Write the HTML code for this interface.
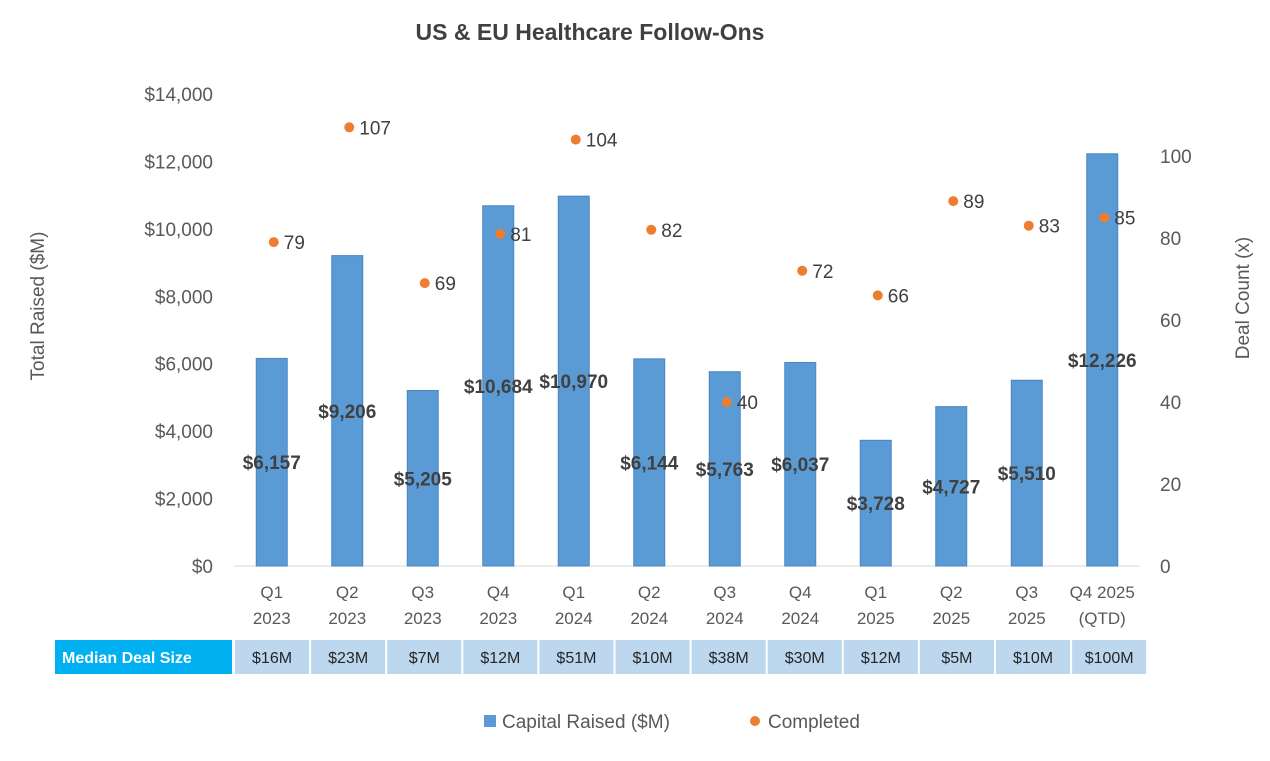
<!DOCTYPE html>
<html><head><meta charset="utf-8"><style>
body{margin:0;background:#fff;}
svg text{font-family:"Liberation Sans",Arial,sans-serif;}
</style></head><body>
<svg id="chart" width="1270" height="756" xmlns="http://www.w3.org/2000/svg">
<text x="590" y="40" text-anchor="middle" font-size="23" font-weight="bold" fill="#404040">US &amp; EU Healthcare Follow-Ons</text>
<text transform="translate(44,306) rotate(-90)" text-anchor="middle" font-size="19" fill="#595959">Total Raised ($M)</text>
<text transform="translate(1249,298) rotate(-90)" text-anchor="middle" font-size="19" fill="#595959">Deal Count (x)</text>
<line x1="234" y1="566" x2="1140" y2="566" stroke="#d9d9d9" stroke-width="1"/>
<g id="g"></g>
<rect x="55" y="640" width="177" height="34" fill="#00b0f0"/>
<text x="62" y="663" font-size="16" font-weight="bold" fill="#fff">Median Deal Size</text>
<rect x="484" y="715" width="12" height="12" fill="#5b9bd5"/>
<text x="502" y="728" font-size="19" fill="#595959">Capital Raised ($M)</text>
<circle cx="755" cy="721" r="5" fill="#ed7d31"/>
<text x="768" y="728" font-size="19" fill="#595959">Completed</text>
</svg>
<script>
const categories=[["Q1","2023"],["Q2","2023"],["Q3","2023"],["Q4","2023"],["Q1","2024"],["Q2","2024"],["Q3","2024"],["Q4","2024"],["Q1","2025"],["Q2","2025"],["Q3","2025"],["Q4 2025","(QTD)"]];
const capital=[6157,9206,5205,10684,10970,6144,5763,6037,3728,4727,5510,12226];
const deals=[79,107,69,81,104,82,40,72,66,89,83,85];
const medians=["$16M","$23M","$7M","$12M","$51M","$10M","$38M","$30M","$12M","$5M","$10M","$100M"];
const leftTicks=[0,2000,4000,6000,8000,10000,12000,14000];
const rightTicks=[0,20,40,60,80,100];
const NS="http://www.w3.org/2000/svg";
const g=document.getElementById('g');
const x0=234,step=75.5,base=566,tstep=76.1;
const xc=i=>x0+step/2+i*step;
const xt=i=>x0+i*tstep;
const yL=v=>base-v*(472/14000);
const yR=v=>base-v*4.1;
const fmt=v=>'$'+v.toLocaleString('en-US');
function mk(tag,attrs,txt){const e=document.createElementNS(NS,tag);for(const k in attrs)e.setAttribute(k,attrs[k]);if(txt!=null)e.textContent=txt;g.appendChild(e);return e;}
leftTicks.forEach(t=>{
 const e=mk('text',{x:213,y:yL(t)+7,'text-anchor':'end','font-size':19,fill:'#595959'},fmt(t));
 
 
});
rightTicks.forEach(t=>{
 const e=mk('text',{x:1160,y:yR(t)+7,'font-size':19,fill:'#595959'},String(t));
 
 
});
capital.forEach((v,i)=>{
 const b=mk('rect',{x:xc(i)-15.5,y:yL(v),width:31,height:base-yL(v),fill:'#5b9bd5',stroke:'#4a86c0','stroke-width':1});
 
 
});
categories.forEach((c,i)=>{
 const a=mk('text',{x:xc(i),y:598,'text-anchor':'middle','font-size':17,fill:'#595959'},c[0]);
 
 
 const b=mk('text',{x:xc(i),y:624,'text-anchor':'middle','font-size':17,fill:'#595959'},c[1]);
 
 
});
deals.forEach((v,i)=>{
 const d=mk('circle',{cx:xc(i)+2,cy:yR(v),r:5,fill:'#ed7d31'});
 
 
 const t=mk('text',{x:xc(i)+12,y:yR(v)+7,'font-size':19,fill:'#404040'},String(v));
 
 
});
capital.forEach((v,i)=>{
 const t=mk('text',{x:xc(i),y:(yL(v)+base)/2+7,'text-anchor':'middle','font-size':19,'font-weight':'bold',fill:'#404040'},fmt(v));
 
 
});
medians.forEach((m,i)=>{
 const r=mk('rect',{x:xt(i)+1,y:640,width:tstep-2,height:34,fill:'#bdd7ee'});
 
 
 const t=mk('text',{x:xt(i)+tstep/2,y:663,'text-anchor':'middle','font-size':16,fill:'#262626'},m);
 
 
});
</script>
</body></html>
